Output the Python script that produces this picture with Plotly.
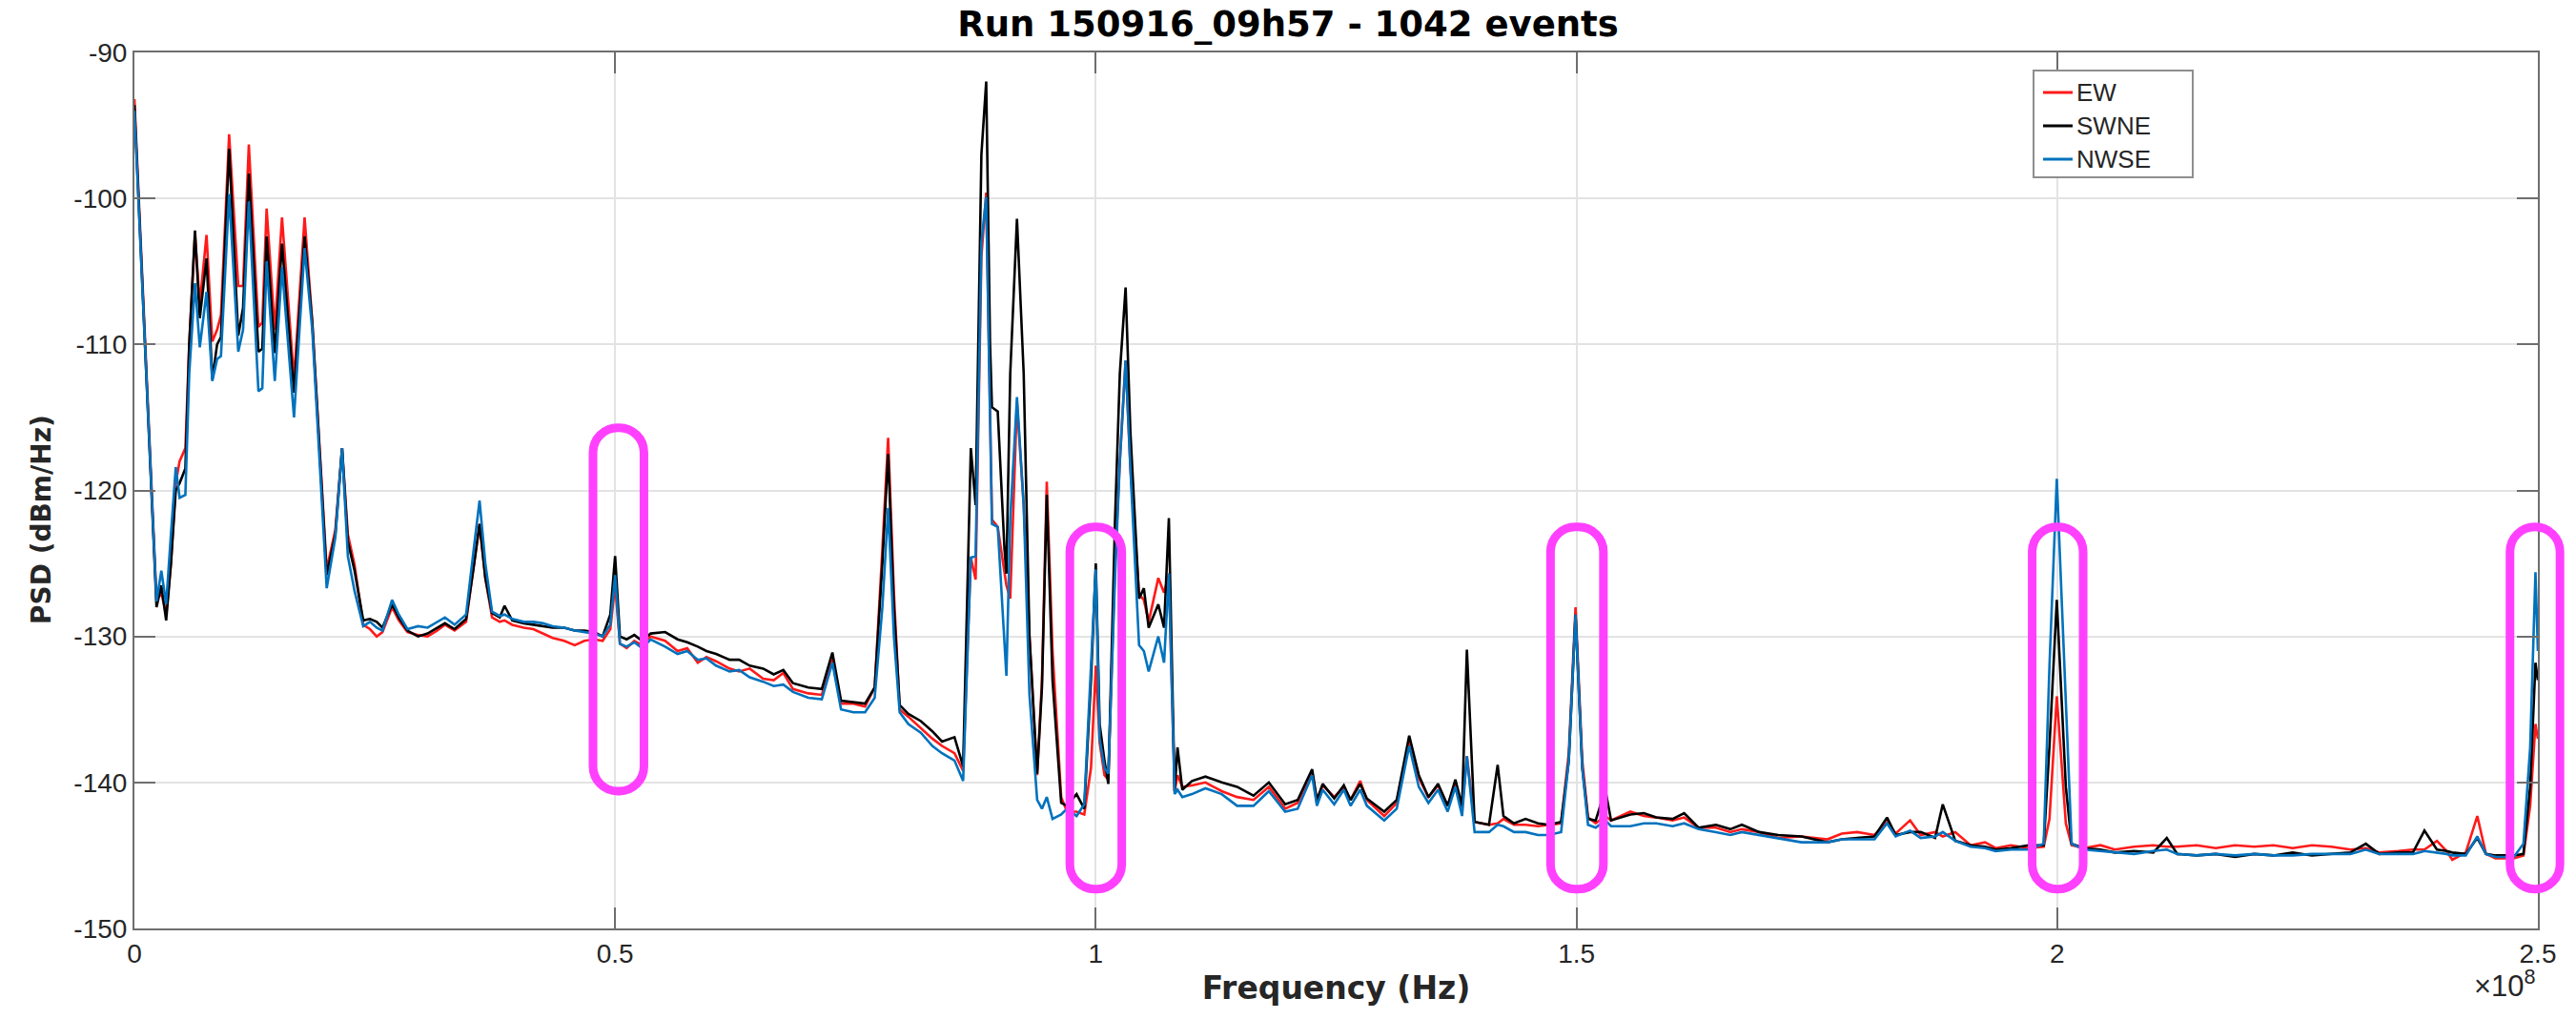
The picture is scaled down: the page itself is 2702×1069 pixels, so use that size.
import plotly.graph_objects as go

# ---------------- data ----------------
freq_mhz = [
    0.0, 2.3, 2.8, 3.3, 3.8, 4.3, 4.7, 5.3, 5.7, 6.3, 6.8, 7.5, 8.1, 8.6, 9.0, 9.85,
    10.8, 11.3, 11.9, 12.9, 13.3, 13.75, 14.6, 15.35, 16.6, 17.7, 18.5, 19.2, 20.0,
    20.9, 21.6, 22.2, 22.9, 23.8, 24.5, 25.2, 25.8, 26.8, 27.5, 28.4, 29.5, 30.5,
    31.5, 32.3, 33.3, 34.5, 35.3, 35.9, 36.5, 37.2, 38.0, 38.5, 39.3, 40.5, 41.5,
    42.5, 43.5, 44.7, 45.8, 46.8, 47.8, 48.7, 49.5, 50.0, 50.5, 51.2, 52.0, 52.8,
    53.7, 55.2, 56.5, 57.5, 58.6, 59.5, 60.5, 61.9, 62.9, 64.0, 65.4, 66.5, 67.5,
    68.5, 70.1, 71.5, 72.6, 73.5, 74.8, 76.0, 77.0, 77.8, 78.4, 79.0, 79.6, 80.5,
    81.8, 83.0, 84.0, 85.3, 86.2, 87.0, 87.5, 88.1, 88.6, 89.0, 89.2, 89.8, 90.5,
    90.7, 91.1, 91.8, 92.5, 93.1, 93.9, 94.4, 94.9, 95.5, 96.4, 97.0, 98.0, 98.8,
    99.5, 100.0, 100.4, 100.9, 101.3, 102.0, 102.5, 103.1, 103.6, 104.5, 105.0,
    105.5, 106.5, 107.1, 107.6, 108.2, 108.5, 109.0, 110.0, 111.4, 113.1, 114.7,
    116.4, 118.0, 119.7, 121.0, 122.5, 123.0, 123.6, 124.8, 125.8, 126.5, 127.5,
    128.2, 130.0, 131.3, 132.6, 133.6, 134.6, 135.6, 136.6, 137.4, 138.1, 138.6,
    139.4, 140.9, 141.8, 142.4, 143.5, 144.7, 146.0, 147.1, 148.4, 149.2, 149.9,
    150.6, 151.2, 152.0, 153.0, 153.6, 155.6, 157.0, 158.3, 160.0, 161.2, 162.7,
    164.5, 166.0, 167.2, 169.0, 171.0, 173.4, 176.1, 177.6, 179.2, 181.0, 182.3,
    183.2, 184.7, 185.8, 187.3, 188.1, 189.4, 191.0, 192.5, 193.6, 195.2, 197.0,
    198.6, 199.2, 199.96, 200.9, 201.5, 202.8, 204.5, 206.0, 208.0, 210.0, 211.4,
    212.5, 214.5, 216.5, 218.5, 220.5, 222.5, 224.5, 226.5, 228.5, 230.5, 232.1,
    233.5, 235.5, 237.0, 238.2, 239.5, 240.5, 241.1, 242.5, 243.7, 244.6, 245.6,
    247.5, 248.5, 249.2, 249.75, 250.0,
]

ew = [
    -93.2, -127.5, -127.0, -128.5, -125.0, -119.5, -118.0, -117.1, -110.0, -102.5, -107.2, -102.5, -109.8, -109.0, -108.0, -95.6,
    -106.0, -106.0, -96.3, -108.8, -108.5, -100.7, -109.0, -101.3, -112.4, -101.3, -108.5, -116.5, -125.4,
    -122.7, -117.1, -123.0, -125.1, -129.2, -129.5, -130.0, -129.7, -128.0, -128.9, -129.7, -129.9, -130.0,
    -129.6, -129.2, -129.6, -129.0, -125.0, -122.3, -126.0, -128.7, -129.0, -128.9, -129.2, -129.4, -129.5,
    -129.8, -130.1, -130.3, -130.6, -130.3, -130.2, -130.3, -129.5, -126.5, -130.5, -130.8, -130.3, -130.6,
    -130.0, -130.3, -131.0, -130.8, -131.8, -131.4, -131.7, -132.2, -132.4, -132.2, -132.9, -133.0, -132.5,
    -133.6, -133.9, -134.0, -131.5, -134.6, -134.6, -134.8, -133.5, -124.0, -116.4, -127.0, -135.0, -135.5,
    -136.3, -137.0, -137.5, -138.0, -139.2, -124.6, -126.1, -104.0, -99.6, -115.0, -122.0, -122.5, -125.5,
    -126.5, -127.4, -114.0, -121.0, -130.0, -139.5, -133.0, -119.4, -131.0, -141.0, -142.0, -142.0, -142.2,
    -139.0, -132.0, -137.3, -139.5, -139.8, -125.0, -118.0, -111.1, -118.5, -127.1, -127.5,
    -129.0, -126.0, -127.0, -125.7, -140.6, -139.5, -140.3, -140.2, -140.0, -140.6, -141.0,
    -141.2, -140.3, -141.8, -141.4, -139.2, -141.4, -140.2, -141.0, -140.3, -141.2, -139.9,
    -141.2, -142.3, -141.4, -137.1, -139.7, -141.0, -140.2, -141.6, -140.0, -141.8, -138.2,
    -142.7, -142.9, -142.8, -142.5, -142.9, -142.9, -143.0, -142.9, -142.8, -138.0, -128.0,
    -138.5, -142.4, -142.8, -142.3, -142.6, -142.0, -142.3, -142.4, -142.6, -142.4, -143.1,
    -143.1, -143.4, -143.2, -143.4, -143.8, -143.7, -143.9, -143.5, -143.4, -143.6, -142.7,
    -143.5, -142.6, -143.6, -143.4, -143.7, -143.4, -144.3, -144.1, -144.5, -144.3, -144.5,
    -144.4, -142.5, -134.1, -142.8, -144.3, -144.5, -144.3, -144.6, -144.4, -144.3, -144.4,
    -144.4, -144.3, -144.5, -144.3, -144.4, -144.3, -144.5, -144.3, -144.4, -144.6, -144.5,
    -144.8, -144.7, -144.6, -144.6, -144.0, -144.7, -145.3, -144.8, -142.3, -144.9, -145.2,
    -145.2, -145.0, -141.6, -136.0, -137.0,
]

swne = [
    -93.6, -128.0, -126.5, -128.9, -125.0, -120.0, -119.5, -118.5, -110.0, -102.2, -108.2, -104.1, -112.4, -110.0, -109.5, -96.6,
    -109.4, -107.5, -98.3, -110.5, -110.3, -102.6, -110.6, -103.1, -113.3, -102.6, -108.5, -116.5, -125.8,
    -123.0, -117.1, -123.5, -125.5, -128.9, -128.8, -129.0, -129.4, -127.8, -128.7, -129.6, -130.0, -129.8,
    -129.4, -129.1, -129.5, -128.8, -125.2, -122.3, -126.0, -128.4, -128.7, -127.9, -128.9, -129.1, -129.2,
    -129.3, -129.4, -129.4, -129.6, -129.6, -129.7, -130.0, -128.5, -124.5, -130.0, -130.2, -129.9, -130.3,
    -129.8, -129.7, -130.2, -130.4, -130.7, -131.0, -131.2, -131.6, -131.6, -132.0, -132.2, -132.6, -132.3,
    -133.2, -133.5, -133.6, -131.1, -134.4, -134.5, -134.6, -133.5, -125.0, -117.5, -128.0, -134.7, -135.3,
    -135.8, -136.5, -137.2, -136.9, -138.9, -117.1, -121.0, -97.0, -92.0, -110.0, -114.3, -114.6, -124.0,
    -125.7, -112.0, -101.4, -112.0, -130.0, -139.4, -133.5, -120.3, -133.0, -141.4, -141.6, -140.8, -141.8,
    -133.0, -125.0, -136.0, -138.5, -140.1, -122.0, -112.0, -106.1, -116.0, -127.4, -126.7,
    -129.4, -127.8, -129.4, -121.9, -140.6, -137.6, -140.5, -139.9, -139.6, -140.0, -140.3,
    -140.9, -140.0, -141.5, -141.2, -139.1, -141.2, -140.1, -141.1, -140.2, -141.2, -140.1,
    -141.1, -142.0, -141.2, -136.8, -139.5, -141.0, -140.1, -141.6, -139.8, -141.6, -130.9,
    -142.7, -142.9, -138.8, -142.3, -142.8, -142.5, -142.8, -142.9, -142.7, -138.5, -128.5,
    -139.0, -142.5, -142.6, -140.5, -142.6, -142.2, -142.1, -142.4, -142.5, -142.1, -143.1,
    -142.9, -143.2, -142.9, -143.4, -143.6, -143.7, -144.1, -143.9, -143.8, -143.7, -142.4,
    -143.6, -143.4, -143.4, -143.8, -141.5, -144.0, -144.3, -144.4, -144.6, -144.5, -144.3,
    -144.3, -137.5, -127.5, -140.3, -144.2, -144.5, -144.6, -144.8, -144.7, -144.8, -143.8,
    -144.9, -145.0, -144.9, -145.1, -144.9, -145.0, -144.8, -145.0, -144.9, -144.8, -144.2,
    -144.9, -144.8, -144.8, -143.3, -144.6, -144.7, -144.8, -144.9, -143.8, -144.9, -145.0,
    -145.0, -144.9, -140.3, -131.8, -133.0,
]

nwse = [
    -94.0, -127.6, -125.5, -127.8, -123.0, -118.4, -120.5, -120.3, -112.0, -105.8, -110.2, -106.4, -112.5, -111.0, -110.8, -99.7,
    -110.5, -109.0, -100.2, -113.2, -113.0, -104.3, -112.5, -104.7, -115.0, -103.4, -109.0, -117.0, -126.7,
    -123.2, -117.1, -124.5, -126.9, -129.3, -129.0, -129.4, -129.6, -127.5, -128.5, -129.5, -129.3, -129.4,
    -129.0, -128.7, -129.2, -128.5, -124.0, -120.7, -125.0, -128.3, -128.6, -128.5, -128.8, -129.0, -129.0,
    -129.1, -129.3, -129.4, -129.6, -129.7, -129.8, -130.0, -129.2, -125.8, -130.5, -130.7, -130.4, -130.8,
    -130.2, -130.7, -131.2, -131.0, -131.6, -131.5, -132.0, -132.4, -132.3, -132.8, -133.1, -133.4, -133.3,
    -133.8, -134.2, -134.3, -131.8, -135.0, -135.2, -135.2, -134.2, -128.0, -121.2, -130.0, -135.2, -136.0,
    -136.6, -137.5, -138.0, -138.5, -139.9, -124.6, -124.5, -103.0, -99.9, -115.0, -122.3, -122.5, -130.0,
    -132.7, -122.0, -113.6, -121.0, -134.0, -141.2, -141.8, -141.0, -142.5, -142.2, -141.8, -142.3, -141.5,
    -132.0, -125.4, -137.0, -139.0, -139.4, -126.0, -118.0, -111.1, -118.5, -130.6, -131.0,
    -132.4, -130.0, -131.8, -125.7, -140.8, -140.5, -141.0, -140.8, -140.4, -140.8, -141.6,
    -141.6, -140.6, -142.0, -141.8, -139.5, -141.6, -140.5, -141.5, -140.5, -141.6, -140.5,
    -141.6, -142.6, -141.8, -137.5, -140.3, -141.4, -140.5, -142.0, -140.3, -142.3, -138.2,
    -143.4, -143.4, -142.9, -143.0, -143.4, -143.4, -143.6, -143.6, -143.4, -138.5, -128.5,
    -139.0, -142.9, -143.1, -142.6, -143.0, -143.0, -142.8, -142.8, -143.0, -142.8, -143.2,
    -143.4, -143.6, -143.4, -143.6, -143.8, -144.1, -144.1, -143.9, -143.9, -143.9, -142.8,
    -143.7, -143.3, -143.8, -143.7, -143.4, -144.0, -144.4, -144.5, -144.7, -144.6, -144.6,
    -144.2, -132.0, -119.2, -134.7, -144.2, -144.6, -144.7, -144.8, -144.9, -144.7, -144.6,
    -144.9, -145.0, -144.9, -145.0, -144.9, -145.0, -145.0, -144.9, -144.9, -144.9, -144.6,
    -144.9, -144.9, -144.9, -144.7, -144.8, -144.9, -145.0, -145.0, -143.7, -144.9, -145.1,
    -145.1, -144.2, -137.6, -125.6, -131.0,
]

series_names = ["EW", "SWNE", "NWSE"]
series_colors = ["#FF1A1A", "#000000", "#0072BD"]

x_tick_vals = [0, 0.5e8, 1.0e8, 1.5e8, 2.0e8, 2.5e8]
x_tick_text = ["0", "0.5", "1", "1.5", "2", "2.5"]
y_tick_vals = [-150, -140, -130, -120, -110, -100, -90]
y_tick_text = ["-150", "-140", "-130", "-120", "-110", "-100", "-90"]

# highlighted harmonic regions: (f_lo MHz, f_hi MHz, dB_low, dB_high)
highlight_boxes = [
    (47.7, 53.0, -140.6, -115.7),
    (97.3, 102.7, -147.3, -122.5),
    (147.3, 152.8, -147.3, -122.5),
    (197.4, 202.7, -147.3, -122.5),
    (247.1, 252.3, -147.3, -122.5),
]

X_RANGE = [0, 2.5e8]
Y_RANGE = [-150, -90]

# ---------------- figure ----------------
W, H = 2702, 1069
ML, MR, MT, MB = 141, 40, 55, 95
PW, PH = W - ML - MR, H - MT - MB

freq_hz = [f * 1e6 for f in freq_mhz]

fig = go.Figure()
for name, vals, col in zip(series_names, [ew, swne, nwse], series_colors):
    fig.add_trace(go.Scatter(x=freq_hz, y=vals, name=name, mode="lines",
                             line=dict(color=col, width=2.6), showlegend=False))

TICKFONT = dict(family="Liberation Sans, Arial, sans-serif", size=28, color="#262626")
LABELFONT = dict(family="DejaVu Sans, sans-serif", size=33, color="#262626")


def fx(px):
    return (px - ML) / PW


def fy(py):
    return (H - MB - py) / PH


fig.update_layout(
    width=W, height=H, autosize=False,
    margin=dict(l=ML, r=MR, t=MT, b=MB),
    paper_bgcolor="white", plot_bgcolor="white",
    title=dict(text="<b>Run 150916_09h57 - 1042 events</b>",
               font=dict(family="DejaVu Sans, sans-serif", size=37, color="#000000"),
               x=0.5, xref="container", xanchor="center",
               y=1 - 25 / H, yref="container", yanchor="middle"),
    xaxis=dict(range=X_RANGE, tickvals=x_tick_vals, ticktext=x_tick_text,
               showgrid=True, gridcolor="#E3E3E3", gridwidth=2,
               ticks="inside", ticklen=22, tickwidth=2, tickcolor="#6E6E6E",
               showline=True, linecolor="#6E6E6E", linewidth=2, mirror="ticks",
               zeroline=False, tickfont=TICKFONT,
               title=dict(text="<b>Frequency (Hz)</b>", font=LABELFONT, standoff=10)),
    yaxis=dict(range=Y_RANGE, tickvals=y_tick_vals, ticktext=y_tick_text,
               showgrid=True, gridcolor="#E3E3E3", gridwidth=2,
               ticks="inside", ticklen=22, tickwidth=2, tickcolor="#6E6E6E",
               showline=True, linecolor="#6E6E6E", linewidth=2, mirror="ticks",
               zeroline=False, tickfont=TICKFONT),
)

# y-axis label (placed slightly below the plot centre, as in the reference)
fig.add_annotation(text="<b>PSD (dBm/Hz)</b>", xref="paper", yref="paper",
                   x=fx(43), y=fy(545), xanchor="center", yanchor="middle",
                   textangle=-90, showarrow=False, font=dict(LABELFONT, size=28))

# exponent label
fig.add_annotation(text="×10<sup>8</sup>", xref="paper", yref="paper",
                   x=1.0, y=fy(1032), xanchor="right", yanchor="middle",
                   showarrow=False, font=dict(TICKFONT, size=31))


def to_px(f_mhz):
    return (f_mhz * 1e6 - X_RANGE[0]) / (X_RANGE[1] - X_RANGE[0])


def to_py(db):
    return (db - Y_RANGE[0]) / (Y_RANGE[1] - Y_RANGE[0])


def stadium(x0, x1, y0, y1, r_px):
    rx, ry = r_px / PW, r_px / PH
    k = 0.5523
    return (f"M {x0},{y1 - ry} C {x0},{y1 - ry + k * ry} {x0 + rx - k * rx},{y1} {x0 + rx},{y1} "
            f"L {x1 - rx},{y1} C {x1 - rx + k * rx},{y1} {x1},{y1 - ry + k * ry} {x1},{y1 - ry} "
            f"L {x1},{y0 + ry} C {x1},{y0 + ry - k * ry} {x1 - rx + k * rx},{y0} {x1 - rx},{y0} "
            f"L {x0 + rx},{y0} C {x0 + rx - k * rx},{y0} {x0},{y0 + ry - k * ry} {x0},{y0 + ry} Z")


for flo, fhi, dlo, dhi in highlight_boxes:
    fig.add_shape(type="path", xref="paper", yref="paper",
                  path=stadium(to_px(flo), to_px(fhi), to_py(dlo), to_py(dhi), 26),
                  line=dict(color="#FF40FF", width=9), fillcolor="rgba(0,0,0,0)")

# legend (drawn box + entries)
fig.add_shape(type="rect", xref="paper", yref="paper",
              x0=fx(2133), x1=fx(2300), y0=fy(186), y1=fy(74),
              line=dict(color="#8E8E8E", width=2), fillcolor="white")
for i, (name, col) in enumerate(zip(series_names, series_colors)):
    yc = 97 + i * 35
    fig.add_shape(type="line", xref="paper", yref="paper",
                  x0=fx(2143), x1=fx(2174), y0=fy(yc), y1=fy(yc),
                  line=dict(color=col, width=3))
    fig.add_annotation(text=name, xref="paper", yref="paper", x=fx(2176), y=fy(yc),
                       xanchor="left", yanchor="middle", showarrow=False,
                       font=dict(family="Liberation Sans, Arial, sans-serif", size=26, color="#262626"))

fig.write_html("out.html")
